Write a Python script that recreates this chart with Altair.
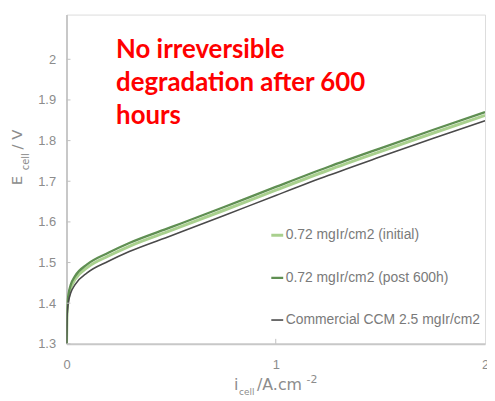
import altair as alt
import pandas as pd

# ---- data ----
current = [0, 0.002, 0.005, 0.01, 0.02, 0.04, 0.1, 0.2, 0.3, 0.5, 0.75, 1.0, 1.25, 1.5, 1.75, 2.0]
e_initial = [1.300, 1.368, 1.395, 1.416, 1.437, 1.458, 1.488, 1.516, 1.540, 1.579, 1.628, 1.678, 1.727, 1.773, 1.818, 1.862]
e_post600 = [1.300, 1.372, 1.401, 1.423, 1.445, 1.466, 1.496, 1.524, 1.548, 1.587, 1.636, 1.686, 1.735, 1.781, 1.826, 1.870]
e_commercial = [1.300, 1.360, 1.385, 1.405, 1.425, 1.445, 1.475, 1.503, 1.527, 1.566, 1.615, 1.665, 1.714, 1.760, 1.805, 1.849]

series_names = ["0.72 mgIr/cm2 (initial)", "0.72 mgIr/cm2 (post 600h)", "Commercial CCM 2.5 mgIr/cm2"]
series_colors = ["#a9d08e", "#5f8f52", "#4a4a4a"]
series_widths = [3.0, 1.6, 2.0]

y_ticks = [1.3, 1.4, 1.5, 1.6, 1.7, 1.8, 1.9, 2.0]
x_ticks = [0, 1, 2]
annotation = ["No irreversible", "degradation after 600", "hours"]

rows = []
for name, vals in zip(series_names, [e_initial, e_post600, e_commercial]):
    for i, e in zip(current, vals):
        rows.append({"series": name, "i": i, "E": e})
df = pd.DataFrame(rows)

x_scale = alt.Scale(domain=[0, 2], nice=False, zero=False)
y_scale = alt.Scale(domain=[1.3, 2.11], nice=False, zero=False)

label_color = "#8c8c8c"
axis_font = "Liberation Sans"

x_axis = alt.Axis(values=x_ticks, title=None, labelFlush=False, labelPadding=15,
                  labelExpr="format(datum.value, '~g')",
                  labelOverlap=False, labelBound=False,
                  labelFontSize=13, labelColor=label_color, labelFont=axis_font,
                  tickSize=0, domainColor="#c8c8c8", domainWidth=2, grid=False)
y_axis = alt.Axis(values=y_ticks, title=None, labelPadding=11,
                  labelExpr="format(datum.value, '.1~f')",
                  labelOverlap=False,
                  labelFontSize=13, labelColor=label_color, labelFont=axis_font,
                  tickSize=0, domainColor="#c8c8c8", domainWidth=2, grid=False)

lines = alt.Chart(df).mark_line(interpolate="monotone", clip=True).encode(
    x=alt.X("i:Q", scale=x_scale, axis=x_axis),
    y=alt.Y("E:Q", scale=y_scale, axis=y_axis),
    color=alt.Color("series:N", scale=alt.Scale(domain=series_names, range=series_colors),
                    legend=alt.Legend(title=None, orient="none", legendX=205, legendY=215,
                                      symbolType="stroke", symbolSize=144, symbolStrokeWidth=2,
                                      labelFontSize=14, labelFont=axis_font, labelColor="#7a7a7a",
                                      labelOffset=1, rowPadding=28, padding=0, symbolOffset=0,
                                      labelLimit=0)),
    strokeWidth=alt.StrokeWidth("series:N", scale=alt.Scale(domain=series_names, range=series_widths),
                                legend=None),
    order=alt.Order("i:Q"),
)

ytick_df = pd.DataFrame({"v": y_ticks})
yticks = alt.Chart(ytick_df).mark_rule(color="#c0c0c0", strokeWidth=1).encode(
    y=alt.Y("v:Q", scale=y_scale, axis=y_axis), x=alt.value(0), x2=alt.value(4))

xtick_df = pd.DataFrame({"v": [1]})
xticks = alt.Chart(xtick_df).mark_rule(color="#c0c0c0", strokeWidth=1).encode(
    x=alt.X("v:Q", scale=x_scale, axis=x_axis), y=alt.value(332), y2=alt.value(327))

one = pd.DataFrame({"k": [0]})

def txt(text, x, y, size, font=axis_font, color=label_color, angle=0, weight="normal", **kw):
    return alt.Chart(one).mark_text(
        align="left", baseline="alphabetic", fontSize=size, font=font, color=color,
        angle=angle, fontWeight=weight, **kw
    ).encode(x=alt.value(x), y=alt.value(y), text=alt.value(text))

note = alt.Chart(one).mark_text(
    align="left", baseline="alphabetic", fontSize=26, font="Lato", fontWeight="bold",
    color="#ff0000", lineHeight=33
).encode(x=alt.value(50), y=alt.value(44), text=alt.value(annotation))

title_font = "DejaVu Sans"
x_title = [
    txt("i", 169, 379, 16, font=title_font),
    txt("cell", 174, 384, 9, font=title_font),
    txt("/A.cm", 192, 379, 16, font=title_font),
    txt("-2", 242, 371, 11, font=title_font),
]
y_title = [
    txt("E", -45, 172, 15, font=title_font, angle=270),
    txt("cell", -38, 157, 10, font=title_font, angle=270),
    txt("/ V", -45, 136, 15, font=title_font, angle=270),
]

chart = alt.layer(lines, yticks, xticks, note, *x_title, *y_title).properties(
    width=422, height=332,
    padding={"left": 59, "top": 5, "right": 2, "bottom": 56},
    autosize=alt.AutoSizeParams(type="none"),
).configure_view(stroke="#c8c8c8", strokeWidth=2).configure(background="white")

chart.save("out.html", embed_options={"renderer": "svg", "actions": False})
